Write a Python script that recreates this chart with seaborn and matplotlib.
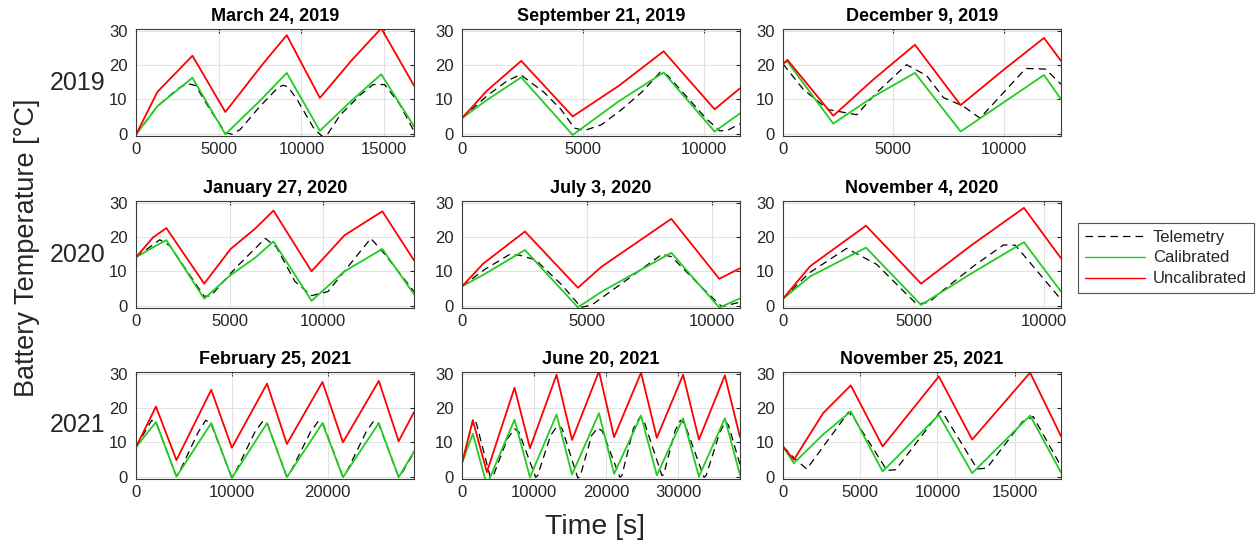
# -*- coding: utf-8 -*-
import matplotlib
matplotlib.use("Agg")
import matplotlib.pyplot as plt
import seaborn as sns
from matplotlib.ticker import MultipleLocator
from matplotlib.lines import Line2D

# --- DATA (piecewise-linear vertices) ---
TITLES = ['March 24, 2019', 'September 21, 2019', 'December 9, 2019',
          'January 27, 2020', 'July 3, 2020', 'November 4, 2020',
          'February 25, 2021', 'June 20, 2021', 'November 25, 2021']
ROW_LABELS = ['2019', '2020', '2021']
X_MAX = [16800, 11500, 12600, 14840, 11130, 10650, 29000, 38600, 18000]

# March 24, 2019
mar19_t = [0, 1300, 3410, 5400, 7580, 9110, 11110, 13000, 14820, 16800]
mar19_unc = [-0.3, 12.2, 22.7, 6.3, 19.8, 28.7, 10.4, 21.2, 30.7, 14.0]
mar19_cal = [-0.2, 8.0, 16.3, -0.2, 10.0, 17.7, 0.8, 9.5, 17.3, 2.1]
mar19_tel_t = [0, 1300, 2500, 3100, 3600, 4500, 5400, 5800, 6300, 7500, 8600, 8900,
               9200, 9760, 10750, 11250, 11600, 12340, 13530, 14330, 15020, 15910, 16800]
mar19_tel = [-0.3, 8.0, 13.0, 14.6, 14.0, 6.8, 0.3, -0.2, 1.2, 8.0, 13.5, 14.1,
             13.6, 9.7, 1.5, -0.8, 0.0, 5.4, 11.2, 14.3, 14.3, 8.8, 0.7]

# September 21, 2019
sep19_t = [0, 1030, 2450, 4580, 6500, 8340, 10450, 11500]
sep19_unc = [4.5, 12.5, 21.2, 5.0, 14.0, 24.0, 7.1, 13.2]
sep19_cal = [4.5, 9.8, 16.4, -0.4, 9.5, 17.8, 0.6, 5.9]
sep19_tel_t = [0, 1030, 1870, 2420, 3400, 4100, 4650, 5070, 5770, 6600, 7440, 8200,
               8500, 9390, 10080, 10670, 11000, 11500]
sep19_tel = [4.5, 11.0, 15.4, 17.2, 12.0, 7.0, 1.6, 0.9, 2.6, 7.0, 12.1, 17.9,
             17.0, 10.0, 4.5, 0.8, 1.0, 2.9]

# December 9, 2019
dec19_t = [0, 200, 2280, 4100, 5980, 8050, 10000, 11830, 12600]
dec19_unc = [20.3, 21.5, 5.2, 15.8, 25.9, 8.3, 18.6, 27.9, 21.2]
dec19_cal = [20.6, 21.0, 2.9, 10.8, 17.7, 0.6, 9.1, 17.1, 10.0]
dec19_tel_t = [0, 920, 2050, 3340, 4240, 5600, 6510, 7270, 8170, 8930, 10000, 11000,
               11900, 12600]
dec19_tel = [20.3, 12.9, 7.0, 5.5, 11.9, 20.1, 16.9, 10.5, 8.0, 4.5, 12.0, 19.0,
             18.8, 14.4]

# January 27, 2020
jan20_t = [0, 915, 1620, 3640, 5050, 6370, 7340, 9370, 11130, 13150, 14840]
jan20_unc = [14.1, 19.9, 22.6, 6.4, 16.5, 22.5, 27.7, 10.0, 20.5, 27.5, 13.2]
jan20_cal = [14.1, 17.0, 19.1, 2.0, 8.9, 14.0, 18.7, 1.4, 10.0, 16.5, 3.3]
jan20_tel_t = [0, 1270, 1800, 3640, 4000, 5320, 6900, 7500, 8490, 9370, 10250, 12535,
               13200, 14840]
jan20_tel = [14.1, 19.2, 17.5, 2.7, 2.9, 11.0, 19.6, 17.0, 7.0, 2.9, 4.1, 19.6,
             15.5, 4.1]

# July 3, 2020
jul20_t = [0, 860, 2520, 4640, 5580, 8380, 10300, 11130]
jul20_unc = [5.6, 12.3, 21.6, 5.2, 11.3, 25.3, 7.8, 10.9]
jul20_cal = [5.6, 9.0, 16.2, -0.5, 4.0, 15.4, -0.6, 2.1]
jul20_tel_t = [0, 900, 1900, 2300, 2950, 4000, 4770, 5200, 6500, 8010, 8400, 9500,
               10400, 11130]
jul20_tel = [5.6, 10.5, 14.9, 14.7, 13.3, 6.0, -0.5, 0.2, 7.0, 15.0, 14.2, 6.0,
             -0.3, 1.0]

# November 4, 2020
nov20_t = [0, 1040, 3180, 5290, 7200, 9230, 10650]
nov20_unc = [2.0, 11.5, 23.3, 6.4, 17.5, 28.5, 13.8]
nov20_cal = [2.0, 8.5, 16.9, 0.2, 9.3, 18.5, 4.1]
nov20_tel_t = [0, 1000, 2440, 3590, 4620, 5130, 5600, 6150, 7300, 8450, 8900, 10650]
nov20_tel = [2.0, 9.5, 16.7, 12.0, 4.2, 0.4, 1.0, 4.6, 11.5, 17.7, 17.6, 1.8]

# February 25, 2021
feb21_t = [0, 2080, 4220, 7850, 10000, 13670, 15740, 19450, 21590, 25330, 27400, 29000]
feb21_unc = [8.6, 20.4, 4.8, 25.3, 8.4, 27.1, 9.5, 27.6, 10.0, 27.9, 10.3, 18.8]
feb21_cal = [8.6, 15.9, 0.0, 15.6, -0.4, 15.6, -0.2, 15.6, -0.2, 15.6, -0.2, 7.3]
feb21_tel_t = [0, 1630, 2100, 4150, 4400, 6500, 7270, 7800, 9950, 10200, 12400, 13220,
               13700, 15700, 15950, 18200, 19030, 19500, 21550, 21800, 24000, 24810,
               25300, 27350, 27600, 29000]
feb21_tel = [8.6, 16.4, 15.8, 0.5, 0.6, 13.0, 16.4, 15.6, 0.0, 0.3, 13.0, 16.1,
             15.5, 0.2, 0.4, 13.0, 16.2, 15.5, 0.2, 0.4, 13.0, 16.3,
             15.5, 0.2, 0.4, 7.0]

# June 20, 2021
jun21_t = [0, 1500, 3450, 7290, 9440, 13130, 15280, 19020, 21120, 24860, 27050, 30700,
           32900, 36500, 38600]
jun21_unc = [3.9, 16.4, 1.3, 25.9, 8.3, 29.7, 10.7, 30.7, 11.5, 30.3, 11.3, 29.7,
             10.8, 29.5, 11.5]
jun21_cal = [3.9, 12.5, -2.5, 16.6, -0.2, 18.1, 0.6, 18.5, 0.8, 17.8, 0.4, 17.0,
             0.0, 17.0, 0.5]
jun21_tel_t = [0, 1590, 2000, 3930, 4300, 6300, 7290, 7900, 10230, 10500, 12300, 13270,
               13900, 16070, 16400, 18000, 18880, 19500, 21920, 22200, 23800, 24720,
               25300, 27760, 28000, 29600, 30330, 30900, 33600, 33900, 35800, 36600,
               37000, 38600]
jun21_tel = [3.9, 16.9, 15.5, -0.2, 0.0, 11.0, 13.9, 13.0, -0.2, 0.3, 12.0, 14.9,
             14.0, -0.4, 0.0, 12.0, 14.2, 13.2, -0.2, 0.3, 14.0, 17.4,
             16.0, 0.3, 0.6, 13.5, 16.4, 15.5, -0.2, 0.3, 13.0, 16.0,
             15.0, 3.5]

# November 25, 2021
nov21_t = [0, 700, 2600, 4390, 6450, 10090, 12250, 16000, 18000]
nov21_unc = [8.8, 4.9, 18.5, 26.6, 8.8, 29.2, 10.8, 30.3, 11.8]
nov21_cal = [8.8, 3.9, 12.3, 19.0, 1.5, 18.0, 1.0, 17.8, 1.2]
nov21_tel_t = [0, 700, 1540, 4240, 4600, 6730, 7300, 10200, 10500, 12580, 13200,
               15500, 16200, 18000]
nov21_tel = [8.8, 5.5, 2.2, 18.8, 17.0, 1.8, 2.0, 19.1, 17.5, 2.2, 2.5,
             16.0, 17.5, 3.0]

panels = [
    (mar19_t, mar19_cal, mar19_unc, mar19_tel_t, mar19_tel),
    (sep19_t, sep19_cal, sep19_unc, sep19_tel_t, sep19_tel),
    (dec19_t, dec19_cal, dec19_unc, dec19_tel_t, dec19_tel),
    (jan20_t, jan20_cal, jan20_unc, jan20_tel_t, jan20_tel),
    (jul20_t, jul20_cal, jul20_unc, jul20_tel_t, jul20_tel),
    (nov20_t, nov20_cal, nov20_unc, nov20_tel_t, nov20_tel),
    (feb21_t, feb21_cal, feb21_unc, feb21_tel_t, feb21_tel),
    (jun21_t, jun21_cal, jun21_unc, jun21_tel_t, jun21_tel),
    (nov21_t, nov21_cal, nov21_unc, nov21_tel_t, nov21_tel),
]

# --- STYLE ---
sns.set_style("whitegrid")
plt.rcParams['font.family'] = ['Liberation Sans', 'DejaVu Sans']

TXT = '#262626'
RED = '#ff0000'
GREEN = '#22cc22'
DASH = (0, (6, 4))

W, H = 1257, 546
fig = plt.figure(figsize=(W / 100, H / 100), dpi=100)
col_left = [136, 462, 783]
row_top = [29, 201, 372]
ax_w, ax_h = 278, 107

for i, (t, cal, unc, tel_t, tel) in enumerate(panels):
    r, c = divmod(i, 3)
    ax = fig.add_axes([col_left[c] / W, 1 - (row_top[r] + ax_h) / H, ax_w / W, ax_h / H])
    sns.lineplot(x=tel_t, y=tel, ax=ax, color='black', lw=0.9, linestyle=DASH)
    sns.lineplot(x=t, y=cal, ax=ax, color=GREEN, lw=1.3)
    sns.lineplot(x=t, y=unc, ax=ax, color=RED, lw=1.3)

    ax.set_xlim(0, X_MAX[i])
    ax.set_ylim(-0.7, 30.5)
    ax.xaxis.set_major_locator(MultipleLocator(10000 if i in (6, 7) else 5000))
    ax.yaxis.set_major_locator(MultipleLocator(10))
    ax.ticklabel_format(axis='x', style='plain', useOffset=False)
    ax.tick_params(direction='in', length=3, width=0.8, top=True, right=True,
                   labelsize=12, colors=TXT, pad=4.5)
    ax.tick_params(axis='y', pad=6)
    ax.grid(True, color='#e2e2e2', lw=0.8)
    for s in ax.spines.values():
        s.set_color('#3a3a3a')
        s.set_linewidth(0.8)
    ax.set_xlabel('')
    ax.set_ylabel('')
    ax.set_title(TITLES[i], fontsize=13, fontweight='bold', color='black', pad=5.5)

for r, lab in enumerate(ROW_LABELS):
    fig.text(78 / W, 1 - (row_top[r] + ax_h / 2) / H, lab, fontsize=18,
             ha='center', va='center', color=TXT)

fig.text(27 / W, 1 - 248 / H, 'Battery Temperature [°C]', rotation=90, fontsize=19.5,
         ha='center', va='center', color=TXT)
fig.text(595 / W, 1 - 527 / H, 'Time [s]', fontsize=20.5, ha='center', va='center', color=TXT)

handles = [Line2D([], [], color='black', lw=0.9, linestyle=DASH),
           Line2D([], [], color=GREEN, lw=1.0),
           Line2D([], [], color=RED, lw=1.0)]
leg = fig.legend(handles, ['Telemetry', 'Calibrated', 'Uncalibrated'],
                 loc='center left', bbox_to_anchor=(1078 / W, 1 - 258 / H),
                 frameon=True, fancybox=False, framealpha=1, edgecolor='#555555',
                 fontsize=12, handlelength=3.6, handletextpad=0.5,
                 labelspacing=0.35, borderaxespad=0, borderpad=0.4)
leg.get_frame().set_linewidth(0.8)

fig.savefig('out.png', dpi=100)
